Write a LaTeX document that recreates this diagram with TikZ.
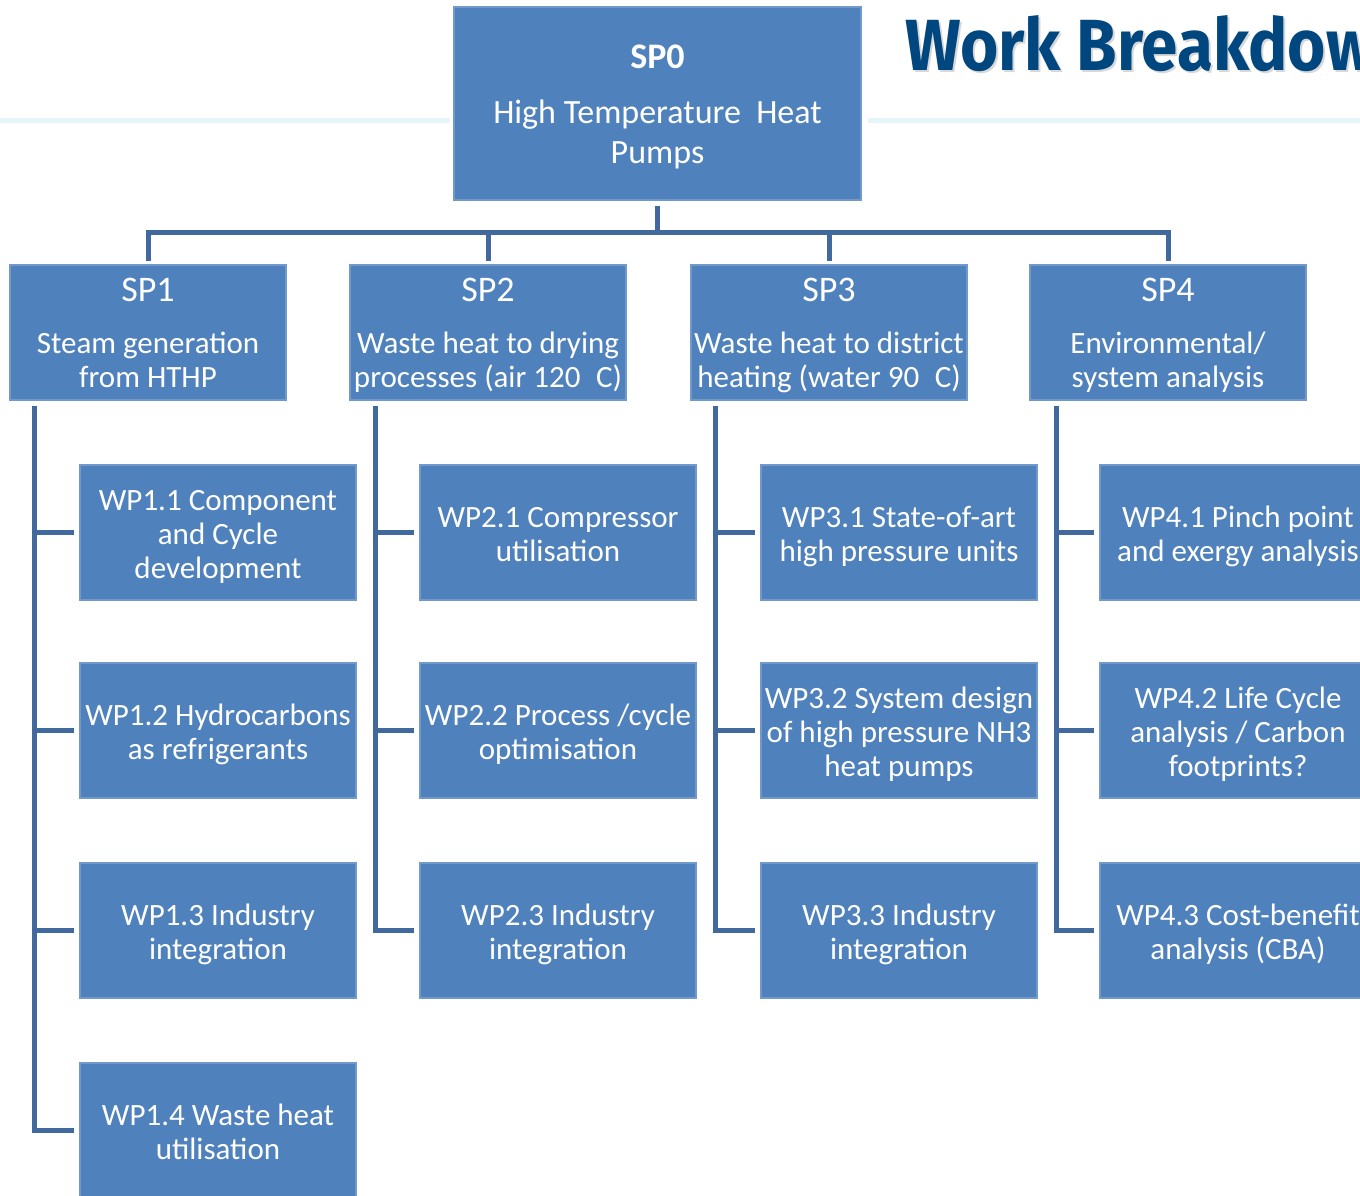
\documentclass[tikz,border=0pt]{standalone}
\usepackage{fontspec}
\setmainfont{Carlito}
\newfontfamily\titlefont{Fira Sans}
\definecolor{boxblue}{HTML}{4F81BD}
\definecolor{boxedge}{HTML}{7199CB}
\definecolor{linkblue}{HTML}{41699E}
\definecolor{paleline}{HTML}{E3F6FB}
\definecolor{titleblue}{HTML}{00467F}
\newcommand{\splabel}[1]{{\fontsize{36}{34}\selectfont\rule{0pt}{34pt}#1}}
\newcommand{\hgt}{\rule{0pt}{34pt}}
\newcommand{\dpt}{\rule[-10pt]{0pt}{10pt}}
\begin{document}
\begin{tikzpicture}[x=1pt,y=-1pt,
  box/.style={fill=boxblue, draw=boxedge, line width=1.2pt, minimum width=276pt, minimum height=135pt,
    inner sep=0pt, text=white, align=center, font=\fontsize{31}{34}\selectfont},
  conn/.style={draw=linkblue, line width=5pt}]
\useasboundingbox (0,0) rectangle (1360,1195);
% pale rule
\fill[paleline] (0,118) rectangle (450,123);
\fill[paleline] (868,118) rectangle (1360,123);
% title
\node[anchor=base west, inner sep=0pt, text=black!30, opacity=0.5] (titleshadow) at (907,72)
  {\resizebox{470pt}{55pt}{\titlefont\bfseries Work Breakdow}};
\node[anchor=base west, inner sep=0pt, text=titleblue] (title) at (905,70)
  {\resizebox{470pt}{55pt}{\titlefont\bfseries Work Breakdow}};
% SP0
\node[box, minimum width=407pt, minimum height=193pt, font=\fontsize{34}{40}\selectfont] (sp0) at (657.5,103.5)
  {{\fontsize{36}{40}\selectfont\bfseries\hgt SP0}\\[15pt]High Temperature\ \ Heat\\Pumps\dpt};
% SP boxes
\node[box] (sp1) at (148,332.5) {\splabel{SP1}\\[18pt]Steam generation\\from HTHP\dpt};
\node[box] (sp2) at (488,332.5) {\splabel{SP2}\\[18pt]Waste heat to drying\\processes (air 120\enspace C)\dpt};
\node[box] (sp3) at (829,332.5) {\splabel{SP3}\\[18pt]Waste heat to district\\heating (water 90\enspace C)\dpt};
\node[box] (sp4) at (1168,332.5) {\splabel{SP4}\\[18pt]Environmental/\\system analysis\dpt};
% WP boxes
\node[box] (wp11) at (218,532.5) {\hgt WP1.1 Component\\and Cycle\\development\dpt};
\node[box] (wp12) at (218,730.5) {\hgt WP1.2 Hydrocarbons\\as refrigerants\dpt};
\node[box] (wp13) at (218,930.5) {\hgt WP1.3 Industry\\integration\dpt};
\node[box] (wp14) at (218,1130.5) {\hgt WP1.4 Waste heat\\utilisation\dpt};
\node[box] (wp21) at (558,532.5) {\hgt WP2.1 Compressor\\utilisation\dpt};
\node[box] (wp22) at (558,730.5) {\hgt WP2.2 Process /cycle\\optimisation\dpt};
\node[box] (wp23) at (558,930.5) {\hgt WP2.3 Industry\\integration\dpt};
\node[box] (wp31) at (899,532.5) {\hgt WP3.1 State-of-art\\high pressure units\dpt};
\node[box] (wp32) at (899,730.5) {\hgt WP3.2 System design\\of high pressure NH3\\heat pumps\dpt};
\node[box] (wp33) at (899,930.5) {\hgt WP3.3 Industry\\integration\dpt};
\node[box] (wp41) at (1238,532.5) {\hgt WP4.1 Pinch point\\and exergy analysis\dpt};
\node[box] (wp42) at (1238,730.5) {\hgt WP4.2 Life Cycle\\analysis / Carbon\\footprints?\dpt};
\node[box] (wp43) at (1238,930.5) {\hgt WP4.3 Cost-benefit\\analysis (CBA)\dpt};
% top connectors
\coordinate (bus) at (658,232);
\draw[conn, shorten <=5pt] (sp0.south) -- (sp0.south |- bus);
\draw[conn, shorten <=3pt, shorten >=3pt] (sp1.north) -- (sp1.north |- bus) -- (sp4.north |- bus) -- (sp4.north);
\draw[conn, shorten >=3pt] (sp2.north |- bus) -- (sp2.north);
\draw[conn, shorten >=3pt] (sp3.north |- bus) -- (sp3.north);
% SP1 branch
\coordinate (t1) at ([xshift=25pt,yshift=-5pt]sp1.south west);
\draw[conn, shorten >=5pt] (t1) |- (wp14.west);
\foreach \w in {wp11,wp12,wp13} \draw[conn, shorten >=5pt] (t1 |- \w.west) -- (\w.west);
% SP2 branch
\coordinate (t2) at ([xshift=26pt,yshift=-5pt]sp2.south west);
\draw[conn, shorten >=5pt] (t2) |- (wp23.west);
\foreach \w in {wp21,wp22} \draw[conn, shorten >=5pt] (t2 |- \w.west) -- (\w.west);
% SP3 branch
\coordinate (t3) at ([xshift=25pt,yshift=-5pt]sp3.south west);
\draw[conn, shorten >=5pt] (t3) |- (wp33.west);
\foreach \w in {wp31,wp32} \draw[conn, shorten >=5pt] (t3 |- \w.west) -- (\w.west);
% SP4 branch
\coordinate (t4) at ([xshift=27pt,yshift=-5pt]sp4.south west);
\draw[conn, shorten >=5pt] (t4) |- (wp43.west);
\foreach \w in {wp41,wp42} \draw[conn, shorten >=5pt] (t4 |- \w.west) -- (\w.west);
\end{tikzpicture}
\end{document}
